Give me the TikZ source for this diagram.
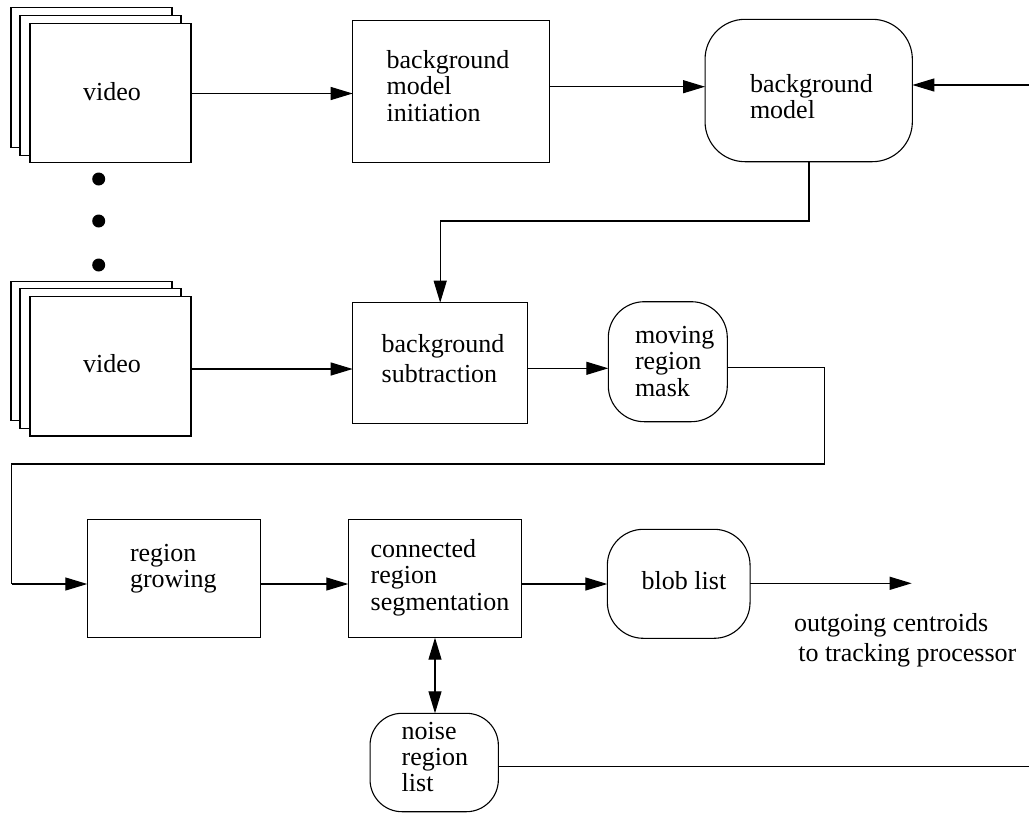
\documentclass[tikz,border=0pt]{standalone}
\usepackage{fontspec}
\setmainfont{Liberation Serif}
\usetikzlibrary{arrows.meta}
\begin{document}
\begin{tikzpicture}[x=1pt,y=-1pt,
  every node/.style={inner sep=0pt, outer sep=0pt},
  sheet/.style={draw, line width=1.2pt, fill=white, minimum width=161pt, minimum height=139.5pt},
  proc/.style={draw, line width=1.2pt, fill=white},
  store/.style={draw, line width=1.1pt, fill=white, rounded corners=#1},
  % multi-line labels are placed by the baseline of their last line
  lbl/.style={anchor=base west, align=left, font=\fontsize{26}{26}\selectfont},
  wire/.style={line width=1.2pt},
  arr/.style={wire, -{Triangle[length=22pt,width=13pt]}},
  dbl/.style={wire, {Triangle[length=22pt,width=13pt]}-{Triangle[length=22pt,width=13pt]}},
  dot/.style={circle, fill=black, minimum size=13pt}]
\useasboundingbox (0,0) rectangle (1029,812);

% first video stack
\node[sheet] (v1c) at (91.5,77.5) {};
\node[sheet] (v1b) at (100.5,85.5) {};
\node[sheet] (v1a) at (110.5,93) {};
\node[anchor=base, font=\fontsize{26}{26}\selectfont] (v1t) at (112,100) {video};

% ellipsis dots
\node[dot] (d1) at (98.7,179) {};
\node[dot] (d2) at (98.7,221) {};
\node[dot] (d3) at (98.7,265) {};

% second video stack
\node[sheet] (v2c) at (91.5,351) {};
\node[sheet] (v2b) at (100.5,358.5) {};
\node[sheet] (v2a) at (110.5,366.2) {};
\node[anchor=base, font=\fontsize{26}{26}\selectfont] (v2t) at (112,372.5) {video};

% processing blocks
\node[proc, minimum width=196.6pt, minimum height=142pt] (bmi) at (451,91.7) {};
\node[lbl] (bmit) at (386.7,121) {background\\[0.3pt]model\\[0.3pt]initiation};

\node[store=40pt, minimum width=207.3pt, minimum height=142.4pt] (bm) at (808.7,90.5) {};
\node[lbl] (bmt) at (750,118.3) {background\\model};

\node[proc, minimum width=175pt, minimum height=120.6pt] (bs) at (440.2,363) {};
\node[lbl] (bst) at (381.7,382.7) {background\\[4pt]subtraction};

\node[store=36pt, minimum width=119pt, minimum height=120pt] (mask) at (667.8,361.7) {};
\node[lbl] (maskt) at (635,396) {moving\\[0.5pt]region\\[0.5pt]mask};

\node[proc, minimum width=173.4pt, minimum height=118pt] (rg) at (174,578.3) {};
\node[lbl] (rgt) at (130,587.7) {region\\growing};

\node[proc, minimum width=173.4pt, minimum height=118.4pt] (crs) at (435,578.5) {};
\node[lbl] (crst) at (370.7,610) {connected\\region\\[1pt]segmentation};

\node[store=36pt, minimum width=142.7pt, minimum height=109pt] (blob) at (678.7,583.8) {};
\node[lbl] (blobt) at (641.7,589.3) {blob list};

\node[store=32pt, minimum width=128.3pt, minimum height=98.4pt] (noise) at (434.2,762.5) {};
\node[lbl] (noiset) at (401.7,791.7) {noise\\region\\[0.5pt]list};

\node[lbl] (outt) at (794,661) {outgoing centroids\\[3.3pt]\hspace*{4.3pt}to tracking processor};

% free ends and bends
\coordinate (inR) at (1029,85);
\coordinate (outR) at (911.7,583.3);
\coordinate (bend1) at (809,221);
\coordinate (bend2) at (824.3,464);
\coordinate (bend3) at (11.7,464);
\coordinate (bend4) at (11.7,584);
\coordinate (noiseEnd) at (1029,766.7);

% connectors
\draw[arr] (v1a.east |- 0,93.5) -- (bmi.west |- 0,93.5);
\draw[arr] (bmi.east |- 0,86.7) -- (bm.west |- 0,86.7);
\draw[arr] (inR) -- (bm.east |- inR);
\draw[arr] (bm.south -| bend1) -- (bend1) -| (bs.north);
\draw[arr] (v2a.east |- 0,369) -- (bs.west |- 0,369);
\draw[arr] (bs.east |- 0,368.3) -- (mask.west |- 0,368.3);
\draw[wire] (mask.east |- 0,367.3) -| (bend2) -- (bend3) -- (bend4);
\draw[arr] (bend4) -- (rg.west |- bend4);
\draw[arr] (rg.east |- 0,584) -- (crs.west |- 0,584);
\draw[arr] (crs.east |- 0,584) -- (blob.west |- 0,584);
\draw[arr] (blob.east |- outR) -- (outR);
\draw[dbl] (crs.south) -- (noise.north -| crs.south);
\draw[wire] (noise.east |- noiseEnd) -- (noiseEnd);
\end{tikzpicture}
\end{document}
